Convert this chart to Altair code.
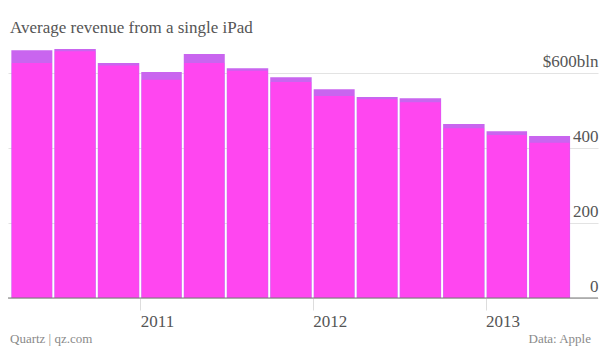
import altair as alt
import pandas as pd

quarters = ["2010-04-01", "2010-07-01", "2010-10-01", "2011-01-01", "2011-04-01",
            "2011-07-01", "2011-10-01", "2012-01-01", "2012-04-01", "2012-07-01",
            "2012-10-01", "2013-01-01", "2013-04-01"]
quarter_ends = quarters[1:] + ["2013-07-01"]
revenue_top = [661, 664, 627, 603, 651, 613, 589, 557, 536, 533, 464, 445, 432]
revenue_low = [627, 658, 620, 582, 627, 606, 576, 539, 530, 522, 453, 435, 414]
y_ticks = [0, 200, 400, 600]
year_ticks = [2011, 2012, 2013]

df = pd.DataFrame({
    "start": [q + "T00:00:00" for q in quarters],
    "end": [q + "T00:00:00" for q in quarter_ends],
    "top": revenue_top,
    "low": revenue_low,
})

FONT = "Liberation Serif"

xscale = alt.Scale(domain=[alt.DateTime(year=2010, month=3, date=27),
                           alt.DateTime(year=2013, month=8, date=27)], nice=False)
yscale = alt.Scale(domain=[0, 680], nice=False)

xaxis = alt.Axis(
    title=None, format="%Y", values=[alt.DateTime(year=y) for y in year_ticks],
    labelAlign="left", labelPadding=3, tickSize=12, tickColor="#dddddd",
    domain=False, grid=False, labelFont=FONT, labelFontSize=17, labelColor="#555555",
)
yaxis = alt.Axis(
    title=None, orient="right", values=y_ticks, grid=True, gridColor="#e3e3e3",
    domain=False, ticks=False, tickSize=0, labelAlign="right", labelBaseline="bottom",
    labelPadding=0, labelOffset=-3, labelFont=FONT, labelFontSize=17, labelColor="#555555",
    labelExpr="datum.value == 600 ? '$600bln' : datum.label",
)

base = alt.Chart(df)

cap = base.mark_bar(color="#c965ef", xOffset=1, x2Offset=-1).encode(
    x=alt.X("start:T", scale=xscale, axis=xaxis),
    x2="end:T",
    y=alt.Y("top:Q", scale=yscale, axis=yaxis),
    y2=alt.datum(0),
)
main = base.mark_bar(color="#ff46f0", xOffset=1.5, x2Offset=-1.5).encode(
    x=alt.X("start:T", scale=xscale),
    x2="end:T",
    y=alt.Y("low:Q", scale=yscale),
    y2=alt.datum(0),
)
zero = alt.Chart(pd.DataFrame({"v": [0]})).mark_rule(color="#777777", strokeWidth=1).encode(
    y=alt.Y("v:Q", scale=yscale),
)
footer_left = alt.Chart(pd.DataFrame({"t": ["Quartz | qz.com"]})).mark_text(
    align="left", baseline="alphabetic", font=FONT, fontSize=13, color="#8a8a8a"
).encode(text="t:N", x=alt.value(2), y=alt.value(300))
footer_right = alt.Chart(pd.DataFrame({"t": ["Data: Apple"]})).mark_text(
    align="right", baseline="alphabetic", font=FONT, fontSize=13, color="#8a8a8a"
).encode(text="t:N", x=alt.value(583), y=alt.value(300))

chart = alt.layer(cap, main, zero, footer_left, footer_right).properties(
    width=590, height=255,
    padding={"left": 8, "top": 43, "right": 2, "bottom": 51},
    autosize=alt.AutoSizeParams(type="none"),
    title=alt.TitleParams(
        "Average revenue from a single iPad", anchor="start", frame="group",
        font=FONT, fontSize=17, fontWeight="normal", color="#555555", dx=2, offset=6,
    ),
).configure_view(stroke=None)

chart.save("out.html", embed_options={"renderer": "svg", "actions": False})
